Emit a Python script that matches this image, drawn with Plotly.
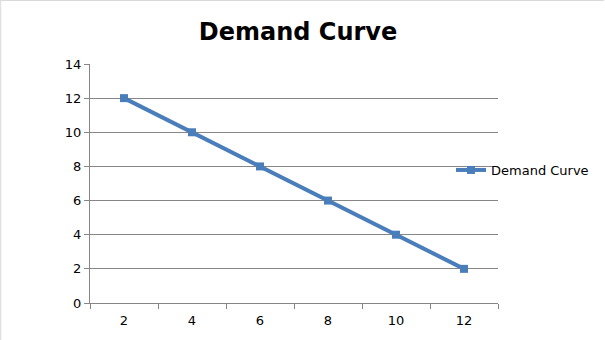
import plotly.graph_objects as go

quantity = ["2", "4", "6", "8", "10", "12"]
price = [12, 10, 8, 6, 4, 2]
series_name = "Demand Curve"
title_text = "Demand Curve"
y_ticks = [0, 2, 4, 6, 8, 10, 12, 14]

W, H = 605, 340
L, R, T, B = 90, 106, 64, 37
pw, ph = W - L - R, H - T - B

fig = go.Figure()
fig.add_trace(go.Scatter(
    x=quantity, y=price, name=series_name, mode="lines+markers",
    line=dict(color="#4A7EBB", width=4),
    marker=dict(symbol="square", size=8, color="#4A7EBB"),
))

axis_col = "#868686"
fig.update_layout(
    width=W, height=H,
    margin=dict(l=L, r=R, t=T, b=B),
    paper_bgcolor="white", plot_bgcolor="white",
    font=dict(family="DejaVu Sans", size=13, color="#000000"),
    title=dict(text="<b>" + title_text + "</b>", x=298 / W, xanchor="center",
               y=1 - 32 / H, yanchor="middle",
               font=dict(family="DejaVu Sans", size=24, color="#000000")),
    showlegend=True,
    legend=dict(x=(451 - L) / pw, y=1 - (170 - T) / ph, xanchor="left", yanchor="middle",
                font=dict(family="DejaVu Sans", size=13, color="#000000"),
                bgcolor="rgba(0,0,0,0)", itemwidth=30, tracegroupgap=0),
    xaxis=dict(type="category", range=[-0.5, 5.5], tickson="boundaries",
               ticks="outside", ticklen=5, tickcolor=axis_col,
               showline=True, linecolor=axis_col, linewidth=1,
               showgrid=False, zeroline=False, fixedrange=True,
               ticklabelstandoff=5,
               tickfont=dict(size=13)),
    yaxis=dict(range=[0, 14], tickvals=y_ticks, ticks="outside", ticklen=5,
               tickcolor=axis_col, showline=True, linecolor=axis_col, linewidth=1,
               showgrid=True, gridcolor=axis_col, gridwidth=1, zeroline=False,
               fixedrange=True, tickfont=dict(size=13)),
    shapes=[
        dict(type="line", xref="paper", yref="paper",
             x0=-L / pw, x1=(W - L) / pw, y0=1 + (T - 0.5) / ph, y1=1 + (T - 0.5) / ph,
             line=dict(color="#D9D9D9", width=1)),
        dict(type="line", xref="paper", yref="paper",
             x0=-(L - 0.5) / pw, x1=-(L - 0.5) / pw, y0=-B / ph, y1=1 + T / ph,
             line=dict(color="#D9D9D9", width=1)),
    ],
)

fig.write_html("out.html")
